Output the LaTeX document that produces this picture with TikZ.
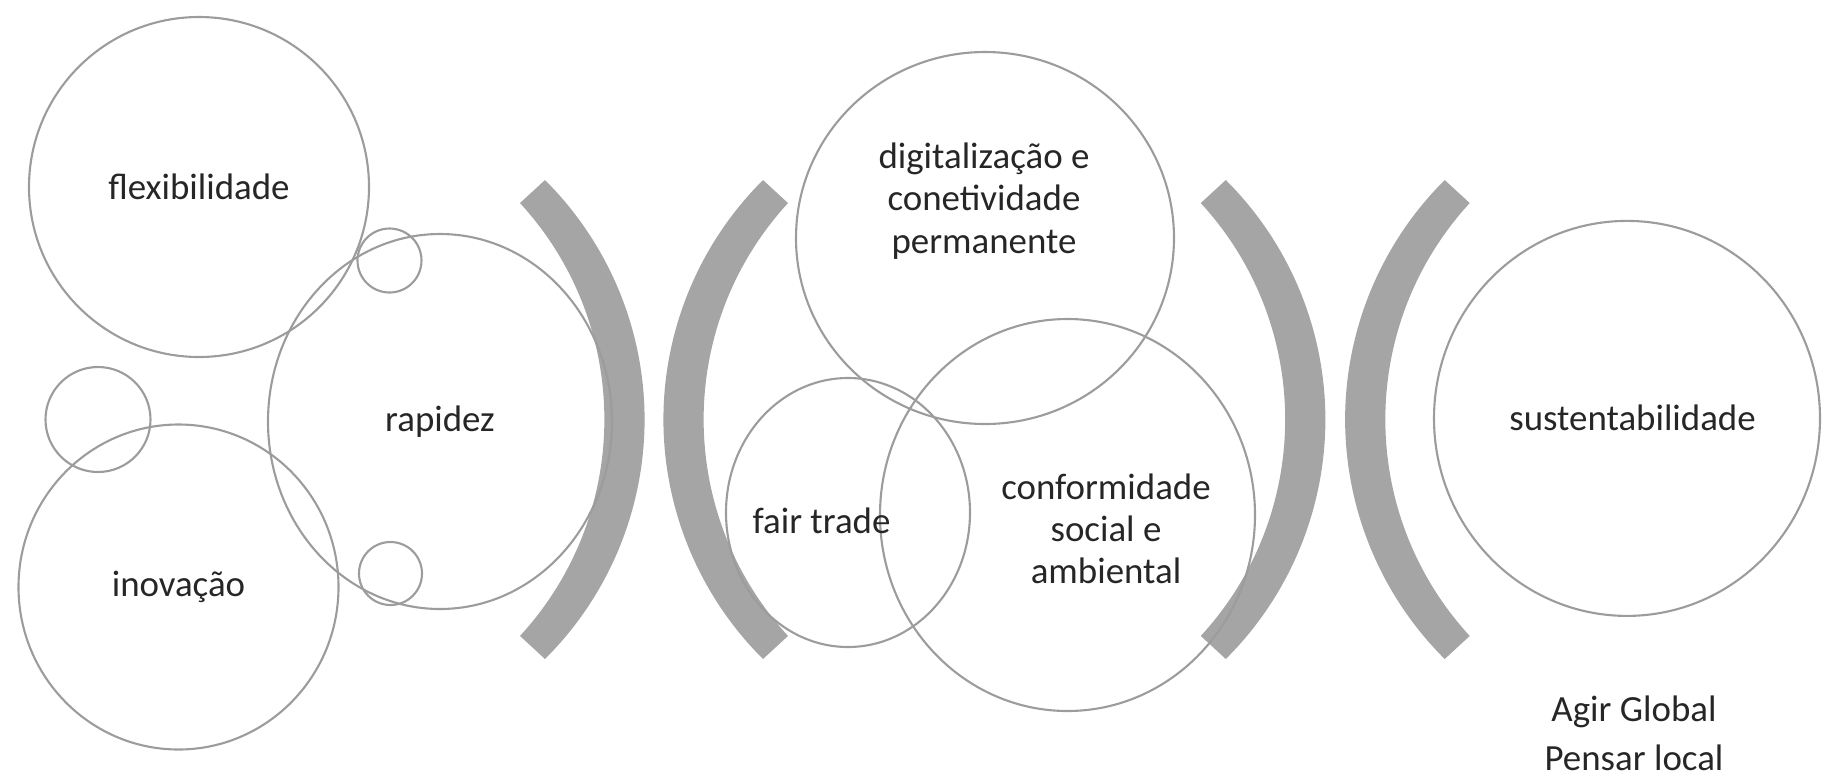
\documentclass[tikz,border=0pt]{standalone}
\usepackage{fontspec}
\setmainfont{Carlito}
\usetikzlibrary{
  shapes.geometric
}

\definecolor{ringgray}{HTML}{9C9C9C}
\definecolor{arcgray}{HTML}{A5A5A5}
\definecolor{inkgray}{HTML}{262626}

\tikzset{
  crescent/.pic={
    \fill[arcgray] (42.6:31.98mm) arc[start angle=42.6, end angle=-42.6, radius=31.98mm]
      -- (26.04mm,-23.95mm) arc[start angle=-45.16, end angle=45.16, radius=33.775mm] -- cycle;
  }
}

\begin{document}
\begin{tikzpicture}[
  x=0.1mm, y=-0.1mm,
  ring/.style={ellipse, draw=ringgray, line width=0.6pt, inner sep=0pt,
    text=inkgray, font=\fontsize{10.5}{12}\selectfont},
  dot/.style={circle, draw=ringgray, line width=0.6pt, inner sep=0pt},
  words/.style={text=inkgray, align=center, inner sep=0pt,
    font=\fontsize{10.5}{12}\selectfont},
]
\useasboundingbox (0,0) rectangle (1822,778);
% the four thick arcs
\pic at (284.6,419.5) {crescent};
\pic[xscale=-1] at (1023.4,419.5) {crescent};
\pic at (965.4,419.5) {crescent};
\pic[xscale=-1] at (1705.1,419.5) {crescent};
% left group
\node[ring, minimum width=34mm, minimum height=34mm] (flex) at (199,187) {flexibilidade};
\node[ring, minimum width=34.4mm, minimum height=37.5mm] (rapid) at (440,421.5) {rapidez};
\node[ring, minimum width=32mm, minimum height=32.5mm] (inov) at (178.5,587) {inovação};
\node[dot, minimum size=6.4mm] (dottop) at (389.5,260.5) {};
\node[dot, minimum size=6.3mm] (dotbot) at (390.5,573.5) {};
\node[dot, minimum size=10.5mm] (dotleft) at (98,419.5) {};
% middle group
\node[ring, minimum width=37.8mm, minimum height=37.2mm] (digital) at (985,238) {};
\node[ring, minimum width=24.4mm, minimum height=26.9mm] (fair) at (848,512.5) {};
\node[ring, minimum width=37.5mm, minimum height=39.2mm] (conform) at (1067.5,515) {};
\node[words] (digitaltext) at (984,201) {digitalização e\\conetividade\\permanente};
\node[words] (fairtext) at (821.5,520.6) {fair trade};
\node[words] (conformtext) at (1106,529) {conformidade\\social e\\ambiental};
% right group
\node[ring, minimum width=38.6mm, minimum height=39.5mm] (sust) at (1627,418.4) {};
\node[words] (susttext) at (1632.6,418) {sustentabilidade};
\node[words, anchor=base] (agir) at (1634,721) {Agir Global};
\node[words, anchor=base] (pensar) at (1634,770) {Pensar local};
\end{tikzpicture}
\end{document}
